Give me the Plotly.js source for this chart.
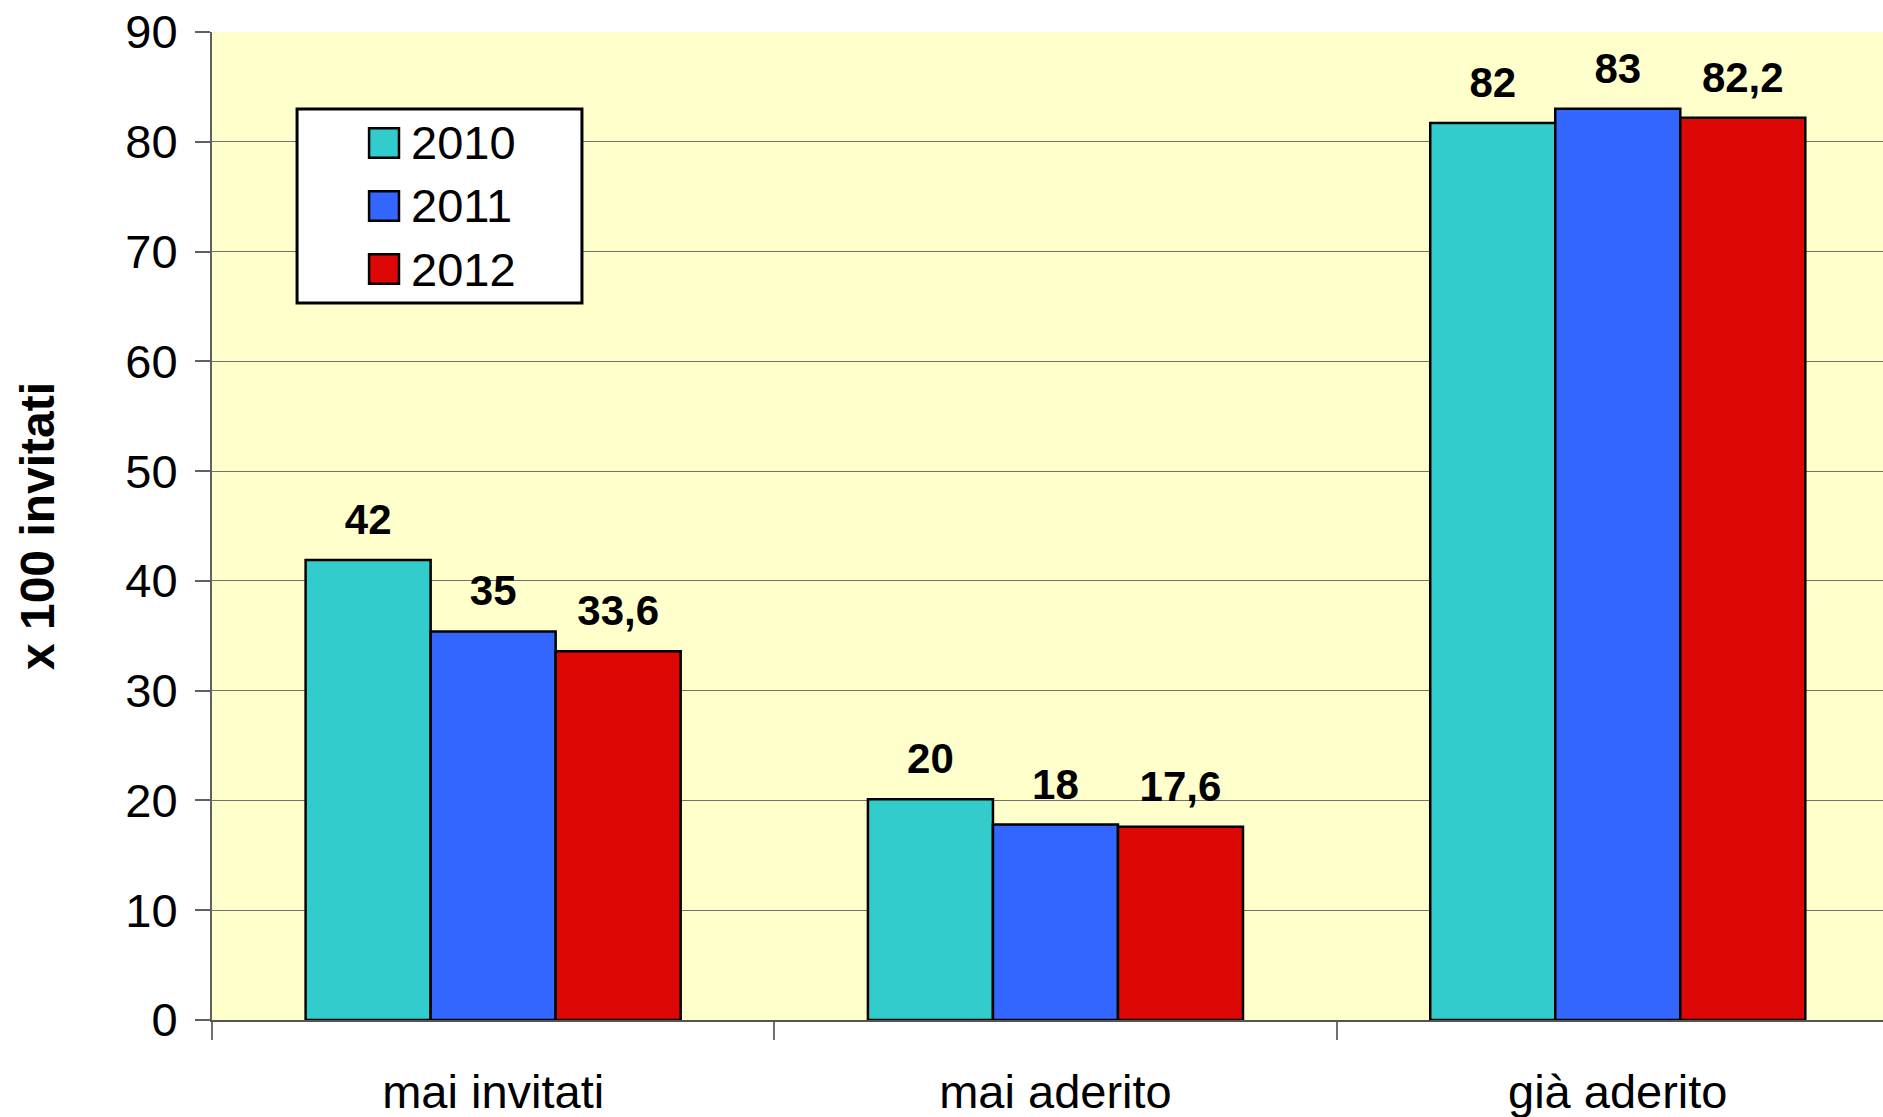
<!DOCTYPE html>
<html>
<head>
<meta charset="utf-8">
<script src="https://cdn.plot.ly/plotly-3.0.1.min.js"></script>
<style>
  html, body { margin: 0; padding: 0; background: #ffffff; overflow: hidden; }
  #chart { width: 1883px; height: 1117px; }
</style>
</head>
<body>
<div id="chart"></div>
<script>
// ---- data ----
const categories = ['mai invitati', 'mai aderito', 'già aderito'];
const seriesNames = ['2010', '2011', '2012'];
const values2010 = [41.9, 20.1, 81.7];
const values2011 = [35.4, 17.8, 83.0];
const values2012 = [33.6, 17.6, 82.2];
const labels2010 = ['42', '20', '82'];
const labels2011 = ['35', '18', '83'];
const labels2012 = ['33,6', '17,6', '82,2'];
const yTickValues = [0, 10, 20, 30, 40, 50, 60, 70, 80, 90];
const yTitle = 'x 100 invitati';

// ---- styles ----
const FONT = 'Liberation Sans, Arial, Helvetica, sans-serif';
const colors = ['#33CCCC', '#3366FF', '#DD0806'];
const seriesValues = [values2010, values2011, values2012];
const seriesLabels = [labels2010, labels2011, labels2012];

const traces = seriesNames.map((name, i) => ({
  type: 'bar',
  name: name,
  x: categories,
  y: seriesValues[i],
  text: seriesLabels[i],
  texttemplate: '<b>%{text}</b>',
  textposition: 'outside',
  cliponaxis: false,
  textfont: { family: FONT, size: 42, color: '#000000' },
  marker: { color: colors[i], line: { color: '#000000', width: 2.5 } },
  showlegend: false,
  hoverinfo: 'skip'
}));

// custom legend (box, swatches, labels) in paper coordinates
const legendBox = { x0: 0.0509, x1: 0.2214, y0: 0.7257, y1: 0.9221 };
const swX0 = 0.0940, swX1 = 0.1119;
const rowCenters = [0.8877, 0.8239, 0.7601];
const swHalfH = 0.0150;
const shapes = [{
  type: 'rect', xref: 'paper', yref: 'paper',
  x0: legendBox.x0, x1: legendBox.x1, y0: legendBox.y0, y1: legendBox.y1,
  fillcolor: '#ffffff', line: { color: '#000000', width: 3 }, layer: 'above'
}];
const annotations = [];
seriesNames.forEach((name, i) => {
  shapes.push({
    type: 'rect', xref: 'paper', yref: 'paper',
    x0: swX0, x1: swX1, y0: rowCenters[i] - swHalfH, y1: rowCenters[i] + swHalfH,
    fillcolor: colors[i], line: { color: '#000000', width: 2.5 }, layer: 'above'
  });
  annotations.push({
    xref: 'paper', yref: 'paper', x: 0.1178, y: rowCenters[i],
    xanchor: 'left', yanchor: 'middle', showarrow: false,
    text: name, font: { family: FONT, size: 47, color: '#000000' }
  });
});

const layout = {
  width: 1883, height: 1117,
  margin: { l: 212, r: 0, t: 32, b: 97, pad: 0 },
  paper_bgcolor: '#ffffff',
  plot_bgcolor: '#FFFFCC',
  font: { family: FONT, color: '#000000' },
  barmode: 'group',
  bargap: 0.333,
  bargroupgap: 0,
  showlegend: false,
  xaxis: {
    type: 'category',
    range: [-0.5, 2.4717],
    tickson: 'boundaries',
    ticks: 'outside', ticklen: 18, tickwidth: 2, tickcolor: '#707070',
    showline: true, linecolor: '#555555', linewidth: 2,
    showgrid: false, zeroline: false,
    tickfont: { family: FONT, size: 47, color: '#000000' },
    ticklabelstandoff: 30
  },
  yaxis: {
    range: [0, 90],
    tickvals: yTickValues,
    ticks: 'outside', ticklen: 15, tickwidth: 2, tickcolor: '#606060',
    showline: true, linecolor: '#606060', linewidth: 2,
    showgrid: true, gridcolor: '#707070', gridwidth: 1,
    zeroline: false,
    tickfont: { family: FONT, size: 47, color: '#000000' },
    ticklabelstandoff: 8,
    title: { text: '<b>' + yTitle + '</b>', font: { family: FONT, size: 48, color: '#000000' }, standoff: 56 }
  },
  shapes: shapes,
  annotations: annotations
};

Plotly.newPlot('chart', traces, layout, { displayModeBar: false, staticPlot: true }).then(gd => {
  gd.querySelectorAll('.barlayer text.bartext').forEach(t => {
    const tr = t.getAttribute('transform') || '';
    t.setAttribute('transform', 'translate(0,-14) ' + tr);
  });
});
</script>
</body>
</html>
